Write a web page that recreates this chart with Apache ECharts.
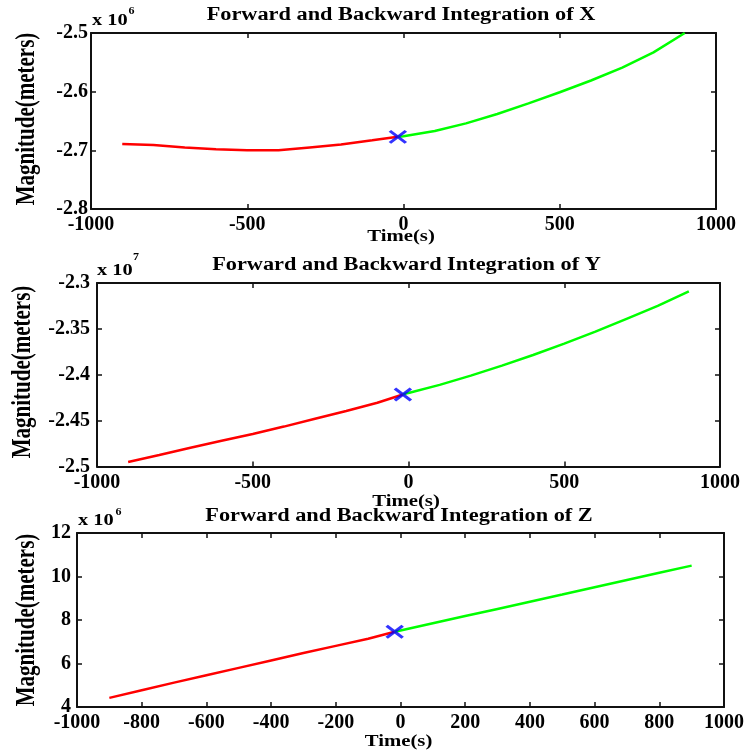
<!DOCTYPE html>
<html>
<head>
<meta charset="utf-8">
<script src="https://cdn.jsdelivr.net/npm/echarts@6/dist/echarts.min.js"></script>
<style>
  html, body { margin: 0; padding: 0; background: #fff; }
  #chart { width: 745px; height: 754px; }
</style>
</head>
<body>
<div id="chart"></div>
<script>
// ---------------- data (values in displayed units: X,Z ×10^6 m, Y ×10^7 m) ----------------
const timeBack = [-900, -800, -700, -600, -500, -400, -300, -200, -100, -18];
const timeFwd  = [-18, 0, 100, 200, 300, 400, 500, 600, 700, 800, 900];

const xBack = [-2.689, -2.691, -2.695, -2.698, -2.700, -2.700, -2.695, -2.690, -2.683, -2.677];
const xFwd  = [-2.677, -2.676, -2.667, -2.654, -2.638, -2.620, -2.601, -2.581, -2.559, -2.533, -2.500];

const yBack = [-2.4950, -2.4875, -2.4795, -2.4720, -2.4645, -2.4565, -2.4480, -2.4395, -2.4305, -2.4215];
const yFwd  = [-2.4215, -2.4198, -2.4110, -2.4010, -2.3900, -2.3785, -2.3660, -2.3530, -2.3390, -2.3250, -2.3090];

const zBack = [4.42, 4.77, 5.12, 5.46, 5.80, 6.14, 6.48, 6.81, 7.14, 7.46];
const zFwd  = [7.46, 7.52, 7.85, 8.18, 8.51, 8.84, 9.17, 9.51, 9.84, 10.17, 10.50];

// tick labels
const xTicksA = [-1000, -500, 0, 500, 1000];
const xTicksB = [-1000, -800, -600, -400, -200, 0, 200, 400, 600, 800, 1000];
const yTicksX = [-2.8, -2.7, -2.6, -2.5];
const yTicksY = [-2.5, -2.45, -2.4, -2.35, -2.3];
const yTicksZ = [4, 6, 8, 10, 12];

// texts
const titles = ['Forward and Backward Integration of X',
                'Forward and Backward Integration of Y',
                'Forward and Backward Integration of Z'];
const exponents = ['6', '7', '6'];
const xName = 'Time(s)';
const yName = 'Magnitude(meters)';

// ---------------- layout / styles ----------------
const FONT = '"Liberation Serif", "Times New Roman", serif';
const panels = [
  { grid: {left: 91, top: 33,  width: 625, height: 176}, xt: xTicksA, yt: yTicksX, back: xBack, fwd: xFwd,
    title: [401, 15.5], xn: [401, 236.5], yn: [27.5, 119], ex: [92, 20.5], sup: [131.5, 11.5], ylm: 3 },
  { grid: {left: 97, top: 283, width: 623, height: 183.5}, xt: xTicksA, yt: yTicksY, back: yBack, fwd: yFwd,
    title: [406.5, 265.5], xn: [406, 501.5], yn: [23.5, 372], ex: [97, 270.5], sup: [136, 257.5], ylm: 7 },
  { grid: {left: 77, top: 533, width: 647, height: 174}, xt: xTicksB, yt: yTicksZ, back: zBack, fwd: zFwd,
    title: [399, 516], xn: [398.5, 742], yn: [27.5, 620], ex: [78, 520.5], sup: [118.5, 512.5], ylm: 6 }
];

const zip = (a, b) => a.map((v, i) => [v, b[i]]);
const step = t => Math.round((t[1] - t[0]) * 1e9) / 1e9;
const fmt = v => String(+v.toFixed(4));

const axisLine = { show: true, onZero: false, lineStyle: { color: '#111', width: 2 } };
const axisTick = { show: true, inside: true, length: 5, lineStyle: { color: '#111', width: 1.5 } };
const labelStyle = { color: '#000', fontFamily: FONT, fontWeight: 'bold', fontSize: 20 };

const grids = [], xAxes = [], yAxes = [], series = [], texts = [];

panels.forEach((p, i) => {
  grids.push(Object.assign({ containLabel: false, outerBoundsMode: 'none' }, p.grid));
  const xBase = { gridIndex: i, type: 'value', min: p.xt[0], max: p.xt[p.xt.length - 1], interval: step(p.xt),
                  axisLine, axisTick, splitLine: { show: false } };
  const yBase = { gridIndex: i, type: 'value', min: p.yt[0], max: p.yt[p.yt.length - 1], interval: step(p.yt),
                  axisLine, axisTick, splitLine: { show: false }, scale: true };
  xAxes.push(Object.assign({}, xBase, { position: 'bottom',
    axisLabel: Object.assign({ margin: 6, formatter: fmt, showMinLabel: true, showMaxLabel: true }, labelStyle) }));
  xAxes.push(Object.assign({}, xBase, { position: 'top', axisLabel: { show: false } }));
  yAxes.push(Object.assign({}, yBase, { position: 'left',
    axisLabel: Object.assign({ margin: p.ylm, formatter: fmt, showMinLabel: true, showMaxLabel: true }, labelStyle) }));
  yAxes.push(Object.assign({}, yBase, { position: 'right', axisLabel: { show: false } }));

  const xi = i * 2, yi = i * 2;
  series.push({ type: 'line', xAxisIndex: xi, yAxisIndex: yi, data: zip(timeBack, p.back),
    showSymbol: false, smooth: false, lineStyle: { color: '#ff0000', width: 2.5 }, z: 3 });
  series.push({ type: 'line', xAxisIndex: xi, yAxisIndex: yi, data: zip(timeFwd, p.fwd),
    showSymbol: false, smooth: false, lineStyle: { color: '#00ff00', width: 2.5 }, z: 3 });
  series.push({ type: 'scatter', xAxisIndex: xi, yAxisIndex: yi, data: [[timeFwd[0], p.fwd[0]]],
    symbol: 'path://M0,0L10,10M10,0L0,10', symbolSize: [16, 12],
    itemStyle: { color: 'rgba(0,0,0,0)', borderColor: '#0000ff', borderWidth: 3 }, z: 5 });

  const t = (txt, x, y, size, opts) => Object.assign({
    type: 'text', x, y, silent: true,
    style: { text: txt, fontFamily: FONT, fontWeight: 'bold', fontSize: size, fill: '#000',
             align: 'center', verticalAlign: 'middle', textAlign: 'center', textVerticalAlign: 'middle' }
  }, opts || {});
  texts.push(t(titles[i], p.title[0], p.title[1], 18, { scaleX: 1.24 }));
  texts.push(t(xName, p.xn[0], p.xn[1], 17, { scaleX: 1.22 }));
  texts.push(t(yName, p.yn[0], p.yn[1], 20, { rotation: Math.PI / 2, scaleX: 1.05, scaleY: 1.35 }));
  const ex = t('x 10', p.ex[0], p.ex[1], 17, { scaleX: 1.2 });
  ex.style.align = 'left'; ex.style.textAlign = 'left';
  texts.push(ex);
  texts.push(t(exponents[i], p.sup[0], p.sup[1], 10, { scaleX: 1.2 }));
});

const chart = echarts.init(document.getElementById('chart'), null, { renderer: 'canvas' });
chart.setOption({
  animation: false,
  backgroundColor: '#ffffff',
  grid: grids,
  xAxis: xAxes,
  yAxis: yAxes,
  series: series,
  graphic: { elements: texts }
});
</script>
</body>
</html>
